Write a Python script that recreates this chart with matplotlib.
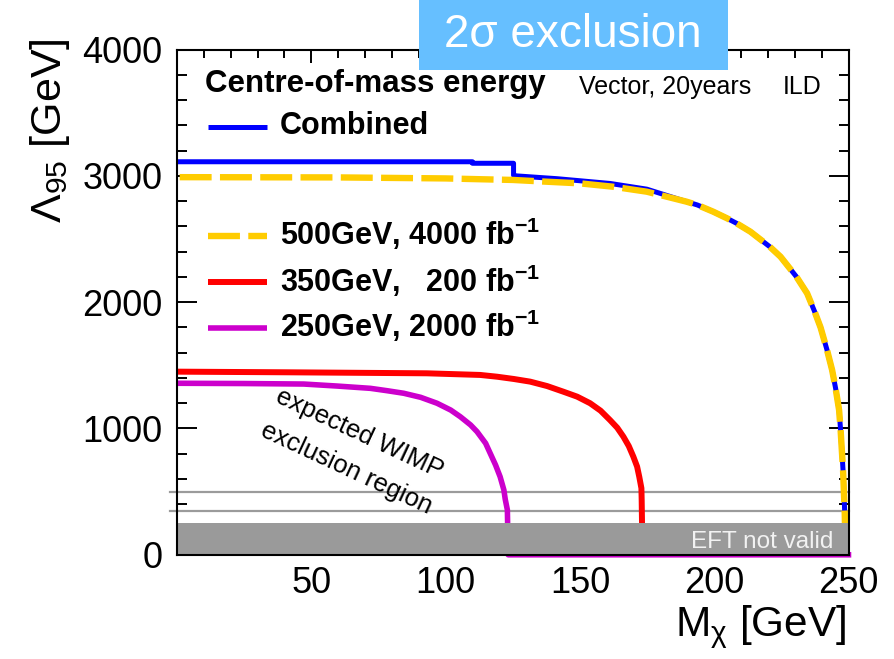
import matplotlib
matplotlib.use("Agg")
import matplotlib.pyplot as plt
from matplotlib.lines import Line2D
from matplotlib.patches import Rectangle

# ---------------------------------------------------------------- data
# Combined limit (blue)
m_comb = [1, 110, 110, 125.3, 125.3, 126.5, 141.4, 161.3, 174.9, 189.7, 193.7,
          199.6, 204.8, 208.3, 213.5, 220.7, 224.7, 230.6, 234.6, 237.4, 239.6,
          242.0, 243.9, 245.2, 246.5, 247.1, 248.0, 248.6, 248.9]
lam_comb = [3112, 3112, 3100, 3100, 3005, 3000, 2978, 2940, 2895, 2796, 2770,
            2717, 2664, 2625, 2558, 2439, 2360, 2202, 2070, 1925, 1800,
            1622, 1463, 1318, 1146, 975, 658, 329, 0]

# 500 GeV, 4000 fb^-1 (yellow, dashed)
m_500 = [1, 60, 100, 114.2, 125, 137.7, 150, 162.5, 174.9, 189.7, 193.7,
         199.6, 204.8, 208.3, 213.5, 220.7, 224.7, 230.6, 234.6, 237.4, 239.6,
         242.0, 243.9, 245.2, 246.5, 247.1, 248.0, 248.6, 248.9]
lam_500 = [2990, 2988, 2980, 2973, 2968, 2954, 2941, 2914, 2875, 2796, 2770,
           2717, 2664, 2625, 2558, 2439, 2360, 2202, 2070, 1925, 1800,
           1622, 1463, 1318, 1146, 975, 658, 329, 0]

# 350 GeV, 200 fb^-1 (red)
m_350 = [0.5, 41, 93, 112.9, 119.2, 125.4, 131.5, 137.8, 143.9, 149.0, 153.8,
         157.7, 161.2, 163.9, 166.2, 168.2, 169.9, 171.3, 172.1, 172.9, 173.0,
         173.3]
lam_350 = [1450, 1445, 1437, 1424, 1410, 1392, 1371, 1336, 1291, 1252, 1200,
           1141, 1067, 1006, 935, 861, 777, 698, 618, 527, 434,
           0]

# 250 GeV, 2000 fb^-1 (magenta)
m_250 = [1.4, 25, 47.2, 59.7, 72, 78.3, 84.4, 90.7, 96.8, 101.9, 105.5, 109.3,
         111.7, 114.9, 116.6, 118.6, 120.3, 121.7, 122.2, 123.0, 123.3, 250]
lam_250 = [1358, 1356, 1352, 1336, 1318, 1299, 1279, 1247, 1200, 1146, 1093, 1028,
           975, 883, 804, 711, 618, 513, 440, 355, 0, 0]

# reference energies / EFT validity
ref_lines = [350, 500]
eft_limit = 250

x_ticks = [50, 100, 150, 200, 250]
y_ticks = [0, 1000, 2000, 3000, 4000]

labels = ["Combined", r"500GeV, 4000 fb$^{\mathbf{-1}}$",
          r"350GeV,   200 fb$^{\mathbf{-1}}$", r"250GeV, 2000 fb$^{\mathbf{-1}}$"]

# ---------------------------------------------------------------- style
plt.rcParams["font.family"] = ["Liberation Sans", "DejaVu Sans"]
plt.rcParams["mathtext.fontset"] = "custom"
plt.rcParams["mathtext.rm"] = "Liberation Sans"
plt.rcParams["mathtext.it"] = "Liberation Sans:italic"
plt.rcParams["mathtext.bf"] = "Liberation Sans:bold"
plt.rcParams["lines.scale_dashes"] = False

BLUE = "#0000FF"
YELLOW = "#FFCC00"
RED = "#FF0000"
MAGENTA = "#CC00CC"
GREY = "#9B9B9B"
DASH = (0, (23, 6))

W, H = 894, 659
fig = plt.figure(figsize=(W / 100, H / 100), dpi=100)
ax_l, ax_r, ax_t, ax_b = 177, 848.5, 49.6, 554.8
ax = fig.add_axes([ax_l / W, 1 - ax_b / H, (ax_r - ax_l) / W, (ax_b - ax_t) / H])


def axf(px, py):
    """pixel position -> axes fraction"""
    return (px - ax_l) / (ax_r - ax_l), (ax_b - py) / (ax_b - ax_t)


ax.set_xlim(0, 250)
ax.set_ylim(0, 4000)

# ---------------------------------------------------------------- curves
ax.plot(m_comb, lam_comb, color=BLUE, lw=3.6, zorder=2, solid_joinstyle="round")
ax.plot(m_500, lam_500, color=YELLOW, lw=4.6, linestyle=DASH, zorder=2.2,
        dash_joinstyle="round")
ax.plot(m_350, lam_350, color=RED, lw=4.3, zorder=2.1, solid_joinstyle="round")
ax.plot(m_250, lam_250, color=MAGENTA, lw=4.0, zorder=2.1, clip_on=False,
        solid_joinstyle="round")

for y in ref_lines:
    ax.axhline(y, color=GREY, lw=1.6, zorder=1.5, xmin=-0.01, clip_on=False)
ax.axhspan(0, eft_limit, color="#9A9A9A", lw=0, zorder=3)

# ---------------------------------------------------------------- axes
ax.set_xticks(x_ticks)
ax.set_yticks(y_ticks)
ax.set_xticks(range(0, 251, 10), minor=True)
ax.set_yticks(range(0, 4001, 200), minor=True)
ax.tick_params(which="both", direction="in", top=True, right=True, width=1.4,
               labelsize=26, colors="black")
ax.tick_params(axis="x", which="major", length=9.5, pad=8)
ax.tick_params(axis="x", which="minor", length=5.8)
ax.tick_params(axis="y", which="major", length=14.4, pad=10.5)
ax.tick_params(axis="y", which="minor", length=7.2)
for s in ax.spines.values():
    s.set_linewidth(1.5)
    s.set_zorder(5)

fig.text(847 / W, 1 - 636 / H, r"M$_{\mathrm{\chi}}$ [GeV]", fontsize=30.5,
         ha="right", va="baseline")
fig.text(50 / W, 1 - 38 / H, r"$\mathrm{\Lambda}_{95}$ [GeV]", fontsize=31,
         rotation=90, ha="center", va="top")

# ---------------------------------------------------------------- legend
ax.text(*axf(205, 91.7), "Centre-of-mass energy", transform=ax.transAxes,
        fontsize=22.5, fontweight="bold", va="baseline", ha="left")
key_styles = [dict(color=BLUE, lw=3.6),
              dict(color=YELLOW, lw=4.6, linestyle=DASH),
              dict(color=RED, lw=4.3),
              dict(color=MAGENTA, lw=4.0)]
key_rows = [(126.7, 134.0), (235.7, 245.0), (281.7, 291.7), (327.7, 336.7)]
for lab, sty, (yl, yb) in zip(labels, key_styles, key_rows):
    x0, y0 = axf(208, yl)
    x1, _ = axf(267, yl)
    ax.add_line(Line2D([x0, x1], [y0, y0], transform=ax.transAxes,
                       solid_capstyle="butt", dash_capstyle="butt", **sty))
    ax.text(*axf(280, yb), lab, transform=ax.transAxes, fontsize=22,
            fontweight="bold", va="baseline", ha="left")

ax.text(*axf(579, 94), "Vector, 20years", transform=ax.transAxes,
        fontsize=18, va="baseline", ha="left")
ax.text(*axf(783, 94), "ILD", transform=ax.transAxes,
        fontsize=18, va="baseline", ha="left")

ax.text(*axf(833, 548.3), "EFT not valid", transform=ax.transAxes,
        fontsize=17.5, color="#F2F2F2", va="baseline", ha="right", zorder=4)

ax.text(*axf(359, 434), "expected WIMP", transform=ax.transAxes, fontsize=18.5,
        rotation=-25, rotation_mode="anchor", ha="center", va="center", zorder=4)
ax.text(*axf(346, 468), "exclusion region", transform=ax.transAxes, fontsize=18.5,
        rotation=-25, rotation_mode="anchor", ha="center", va="center", zorder=4)

# ---------------------------------------------------------------- banner
fig.add_artist(Rectangle((419 / W, 1 - 70 / H), 309 / W, 70 / H,
                         transform=fig.transFigure, color="#66BFFF", lw=0,
                         zorder=5))
fig.text(572.5 / W, 1 - 47 / H, "2σ exclusion", fontsize=33, color="white",
         ha="center", va="baseline", zorder=6)

fig.savefig("out.png", dpi=100)
